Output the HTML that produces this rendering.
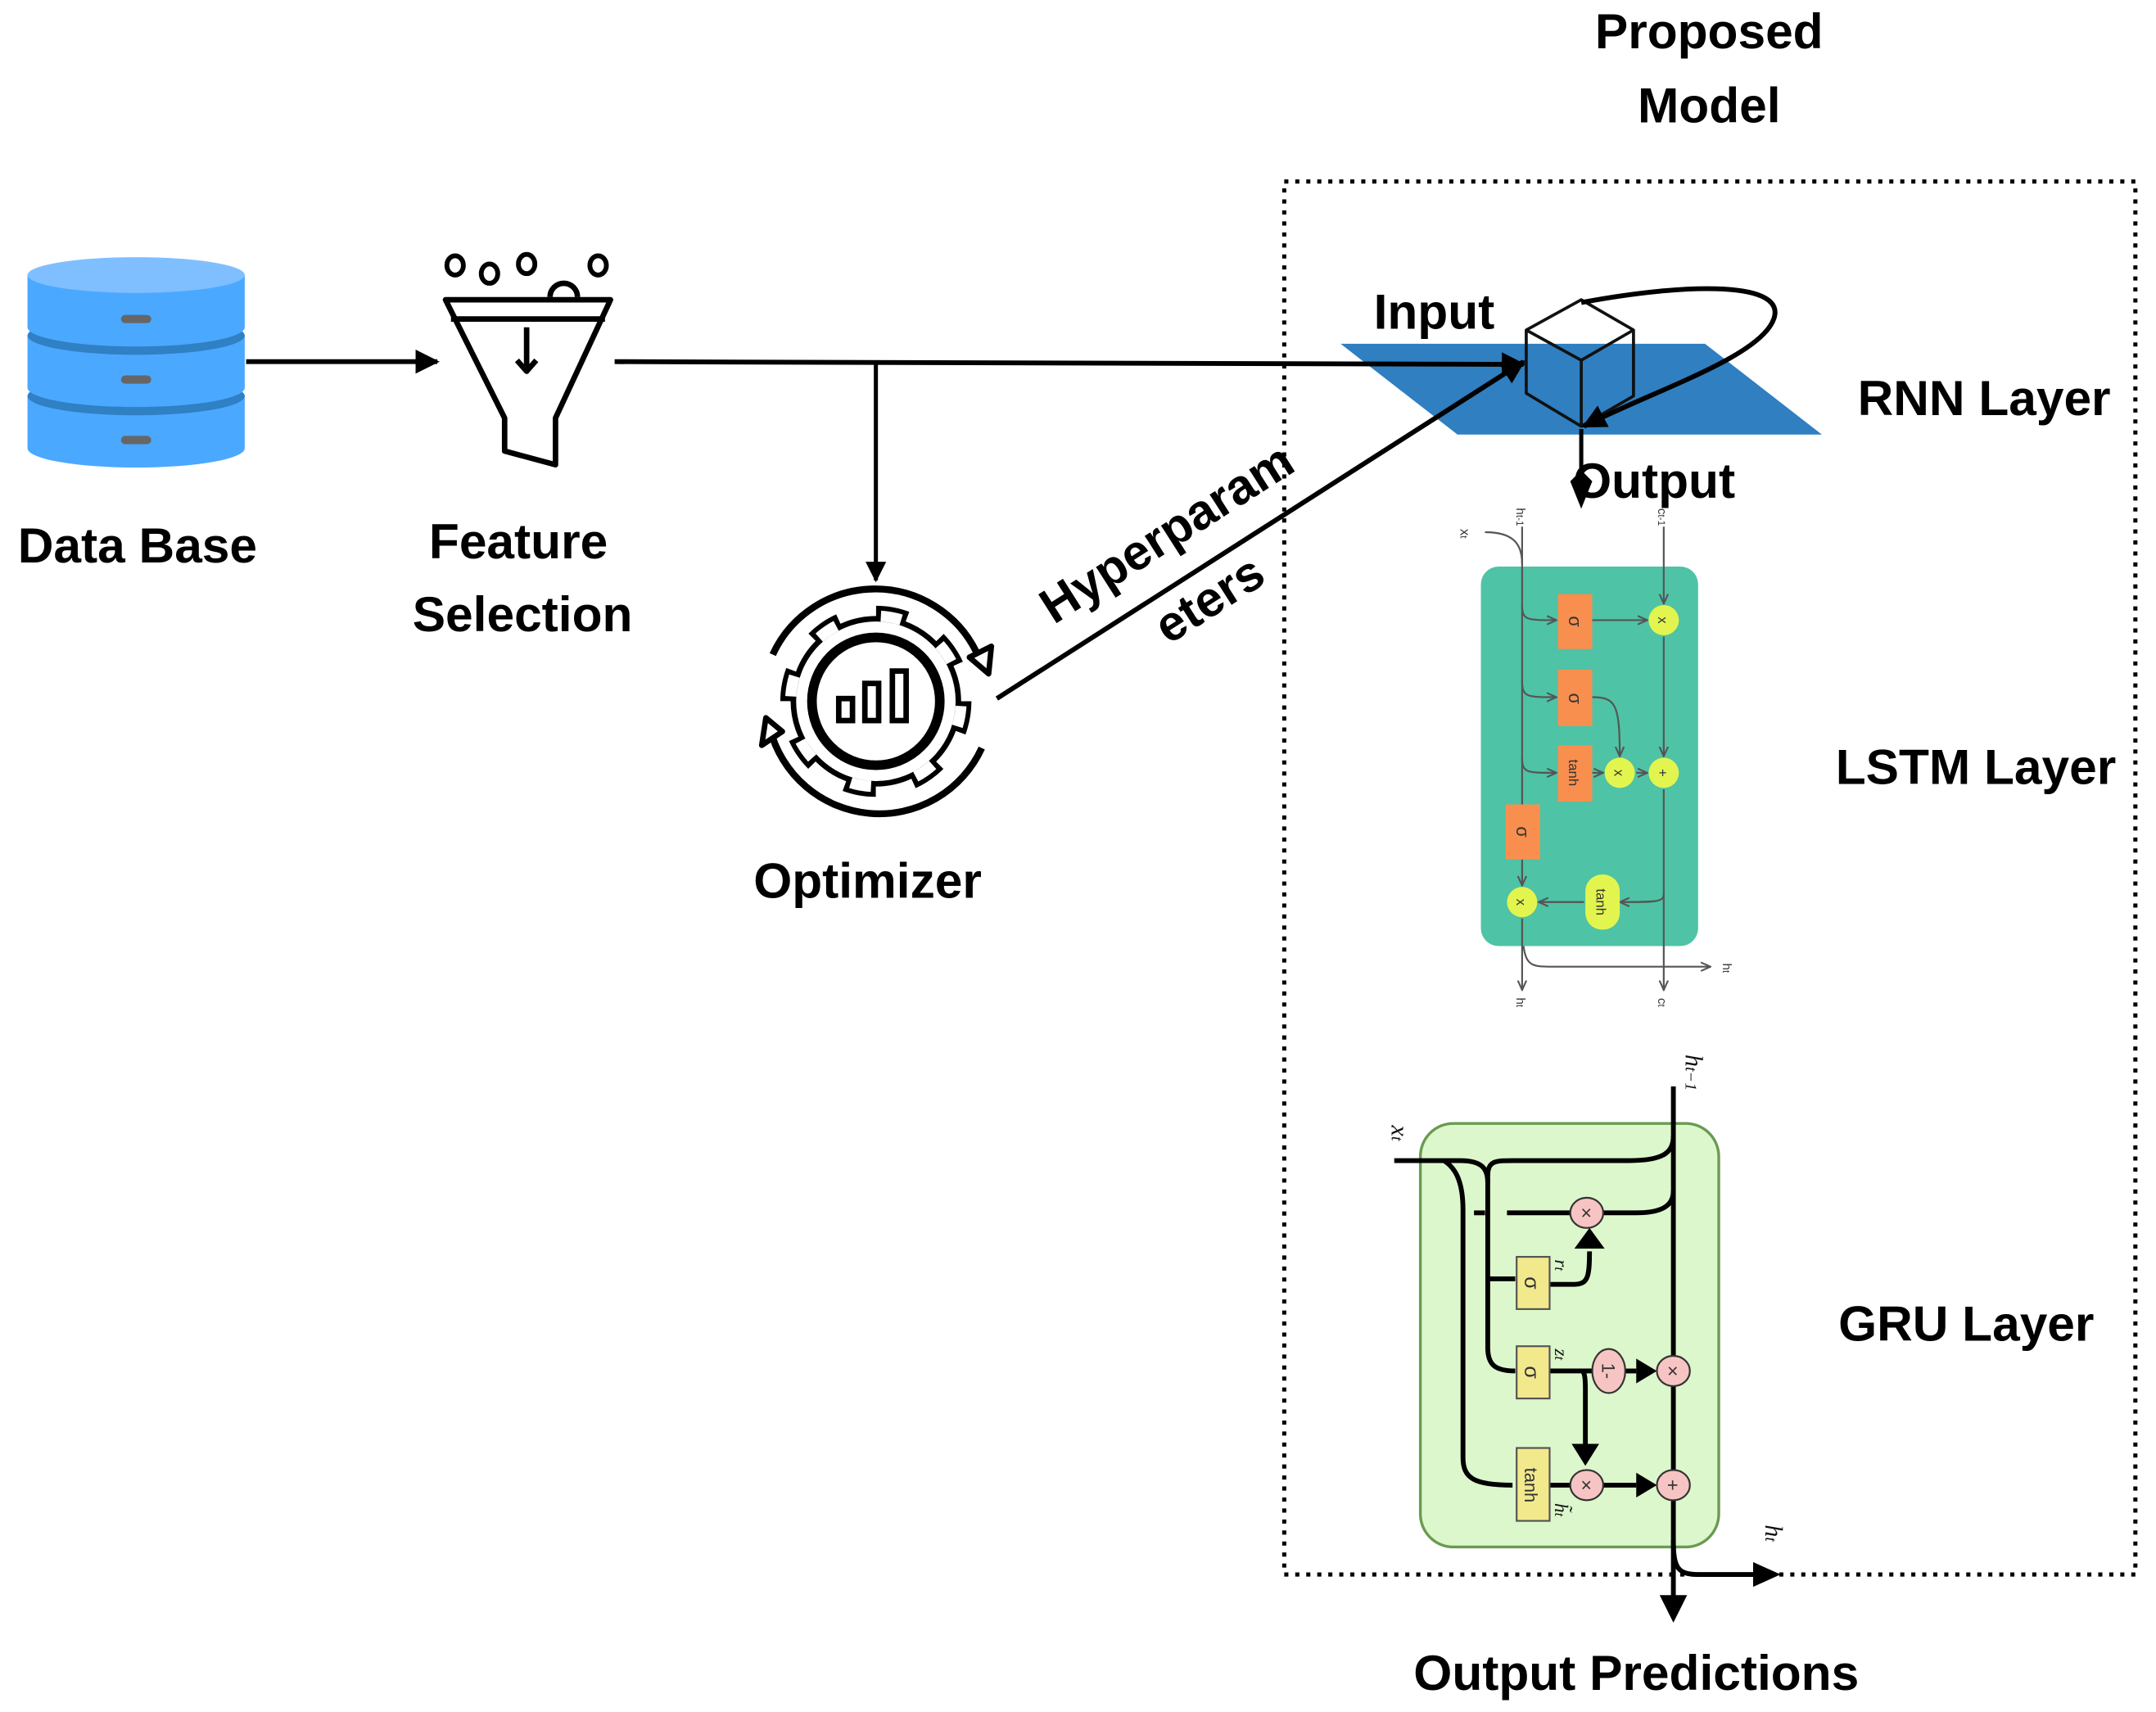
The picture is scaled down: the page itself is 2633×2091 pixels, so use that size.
<!DOCTYPE html>
<html><head><meta charset="utf-8"><style>
html,body{margin:0;padding:0;background:#fff;}
svg{display:block;}
.lb{font-family:"Liberation Sans",sans-serif;font-weight:bold;font-size:36px;fill:#000;}
.sm{font-family:"Liberation Sans",sans-serif;fill:#333;}
.it{font-family:"Liberation Serif",serif;font-style:italic;fill:#111;}
</style></head><body>
<svg width="2633" height="2091" viewBox="0 0 1568 1245" preserveAspectRatio="none" xmlns="http://www.w3.org/2000/svg">
<defs>
<marker id="ah" viewBox="0 0 10 10" refX="9" refY="5" markerWidth="5" markerHeight="5" orient="auto"><path d="M0,0 L10,5 L0,10 Z" fill="#000"/></marker>
<marker id="ag" viewBox="0 0 10 10" refX="9" refY="5" markerWidth="6" markerHeight="6" orient="auto"><path d="M0,1 L9,5 L0,9" fill="none" stroke="#555" stroke-width="1.6"/></marker>
</defs>

<!-- RNN plane (behind lines) -->
<polygon points="975,250 1240,250 1325,316 1060,316" fill="#2f7fc1"/>

<!-- Database -->
<g>
<path d="M20,288 v38 a79,14 0 0 0 158,0 v-38 z" fill="#4ba8ff"/>
<ellipse cx="99" cy="288" rx="79" ry="14" fill="#2f80c4"/>
<path d="M20,244 v38 a79,14 0 0 0 158,0 v-38 z" fill="#4ba8ff"/>
<ellipse cx="99" cy="244" rx="79" ry="14" fill="#2f80c4"/>
<path d="M20,200 v38 a79,14 0 0 0 158,0 v-38 z" fill="#4ba8ff"/>
<ellipse cx="99" cy="200" rx="79" ry="13" fill="#7fbfff"/>
<rect x="88" y="229" width="22" height="6" rx="3" fill="#666"/>
<rect x="88" y="273" width="22" height="6" rx="3" fill="#666"/>
<rect x="88" y="317" width="22" height="6" rx="3" fill="#666"/>
</g>
<line x1="179" y1="263" x2="318" y2="263" stroke="#000" stroke-width="3.5" marker-end="url(#ah)"/>

<!-- Funnel -->
<g fill="none" stroke="#000" stroke-width="4" stroke-linejoin="round">
<path d="M324,218 L444,218 L404,304 L404,338 L367,328 L367,304 Z"/>
<line x1="328" y1="232" x2="440" y2="232"/>
<path d="M400,216 a10,10 0 0 1 20,0"/>
<line x1="383" y1="238" x2="383" y2="268"/>
<path d="M376,262 L383,270 L390,262"/>
</g>
<g fill="none" stroke="#000" stroke-width="3.5">
<ellipse cx="331" cy="193" rx="6" ry="7"/><ellipse cx="356" cy="199" rx="6" ry="7"/>
<ellipse cx="383" cy="192" rx="6" ry="7"/><ellipse cx="435" cy="193" rx="6" ry="7"/>
</g>

<line x1="447" y1="263" x2="1108" y2="265" stroke="#000" stroke-width="3.5" marker-end="url(#ah)"/>
<line x1="637" y1="264" x2="637" y2="422" stroke="#000" stroke-width="3" marker-end="url(#ah)"/>

<!-- Optimizer gear -->
<g transform="translate(637,510)">
<circle r="62" fill="none" stroke="#000" stroke-width="15" stroke-dasharray="22 26.7"/>
<circle r="54" fill="none" stroke="#000" stroke-width="16"/>
<circle r="62" fill="none" stroke="#fff" stroke-width="8" stroke-dasharray="15 33.7" stroke-dashoffset="-3.5"/>
<circle r="54" fill="none" stroke="#fff" stroke-width="8"/>
<circle r="45" fill="#fff" stroke="#000" stroke-width="4"/>
<rect x="-27" y="-2" width="10" height="16" fill="none" stroke="#000" stroke-width="4"/>
<rect x="-8" y="-13" width="10" height="27" fill="none" stroke="#000" stroke-width="4"/>
<rect x="12" y="-22" width="10" height="36" fill="none" stroke="#000" stroke-width="4"/>
<path d="M-75,-34 A82,82 0 0 1 73,-36" fill="none" stroke="#000" stroke-width="5"/>
<path d="M77,34 A82,82 0 0 1 -77,20" fill="none" stroke="#000" stroke-width="5"/>
<path d="M68,-32 L82,-20 L84,-40 Z" fill="#fff" stroke="#000" stroke-width="4" stroke-linejoin="round"/>
<path d="M-68,22 L-83,32 L-80,12 Z" fill="#fff" stroke="#000" stroke-width="4" stroke-linejoin="round"/>
</g>
<line x1="725" y1="508" x2="1108" y2="263" stroke="#000" stroke-width="3.5" marker-end="url(#ah)"/>
<text class="lb" transform="translate(855,398) rotate(-32.5)" text-anchor="middle">Hyperparam</text>
<text class="lb" transform="translate(886,446) rotate(-32.5)" text-anchor="middle">eters</text>

<!-- labels -->
<text class="lb" x="100" y="409" text-anchor="middle">Data Base</text>
<text class="lb" x="377" y="406" text-anchor="middle">Feature</text>
<text class="lb" x="380" y="459" text-anchor="middle">Selection</text>
<text class="lb" x="631" y="653" text-anchor="middle">Optimizer</text>
<text class="lb" x="1243" y="35" text-anchor="middle">Proposed</text>
<text class="lb" x="1243" y="89" text-anchor="middle">Model</text>

<!-- dotted box -->
<rect x="934" y="132" width="619" height="1013" fill="none" stroke="#000" stroke-width="3" stroke-dasharray="3 5"/>

<!-- RNN cube -->
<g fill="none" stroke="#111" stroke-width="2.2" stroke-linejoin="round">
<path d="M1150,218 L1188,240 L1188,288 L1150,310 L1110,286 L1110,240 Z"/>
<path d="M1110,240 L1150,262 L1188,240 M1150,262 L1150,310"/>
</g>
<path d="M1150,220 C1230,205 1300,205 1290,232 C1280,260 1200,285 1152,310" fill="none" stroke="#000" stroke-width="3.5" marker-end="url(#ah)"/>
<line x1="1150" y1="312" x2="1150" y2="358" stroke="#000" stroke-width="3"/>
<path d="M1142,350 L1150,370 L1158,350 L1150,342 Z" fill="#000"/>
<text class="lb" x="1043" y="239" text-anchor="middle">Input</text>
<text class="lb" x="1203" y="362" text-anchor="middle">Output</text>
<text class="lb" x="1443" y="302" text-anchor="middle">RNN Layer</text>
<text class="lb" x="1437" y="570" text-anchor="middle">LSTM Layer</text>
<text class="lb" x="1430" y="975" text-anchor="middle">GRU Layer</text>
<text class="lb" x="1190" y="1229" text-anchor="middle">Output Predictions</text>

<!-- LSTM -->
<rect x="1077" y="412" width="158" height="276" rx="13" fill="#4ec3a5"/>
<g fill="none" stroke="#555" stroke-width="1.3">
<path d="M1080,387 C1100,387 1107,395 1107,410"/>
<line x1="1107" y1="383" x2="1107" y2="585"/>
<line x1="1210" y1="383" x2="1210" y2="439" marker-end="url(#ag)"/>
<path d="M1107,440 C1107,451 1110,451 1132,451" marker-end="url(#ag)"/>
<path d="M1107,495 C1107,507 1110,507 1132,507" marker-end="url(#ag)"/>
<path d="M1107,551 C1107,562 1110,562 1132,562" marker-end="url(#ag)"/>
<line x1="1158" y1="451" x2="1198" y2="451" marker-end="url(#ag)"/>
<path d="M1158,507 C1175,507 1178,512 1178,550" marker-end="url(#ag)"/>
<line x1="1158" y1="562" x2="1166" y2="562" marker-end="url(#ag)"/>
<line x1="1190" y1="562" x2="1198" y2="562" marker-end="url(#ag)"/>
<line x1="1210" y1="463" x2="1210" y2="550" marker-end="url(#ag)"/>
<line x1="1210" y1="574" x2="1210" y2="720" marker-end="url(#ag)"/>
<path d="M1210,650 C1210,656 1205,656 1178,656" marker-end="url(#ag)"/>
<line x1="1152" y1="656" x2="1119" y2="656" marker-end="url(#ag)"/>
<line x1="1107" y1="625" x2="1107" y2="644" marker-end="url(#ag)"/>
<line x1="1107" y1="668" x2="1107" y2="720" marker-end="url(#ag)"/>
<path d="M1108,688 C1110,703 1115,703 1130,703 L1244,703" marker-end="url(#ag)"/>
</g>
<g fill="#f98f4f">
<rect x="1133" y="432" width="25" height="40"/>
<rect x="1133" y="487" width="25" height="41"/>
<rect x="1133" y="542" width="25" height="41"/>
<rect x="1095" y="585" width="25" height="40"/>
</g>
<g fill="#e2f54f">
<ellipse cx="1210" cy="451" rx="11" ry="11"/>
<ellipse cx="1178" cy="562" rx="11" ry="11"/>
<ellipse cx="1210" cy="562" rx="11" ry="11"/>
<ellipse cx="1107" cy="656" rx="11" ry="11"/>
<rect x="1153" y="636" width="25" height="40" rx="12"/>
</g>
<g class="sm" font-size="13" text-anchor="middle">
<text transform="translate(1141,452) rotate(90)">σ</text>
<text transform="translate(1141,508) rotate(90)">σ</text>
<text transform="translate(1103,605) rotate(90)">σ</text>
<text transform="translate(1141,562) rotate(90)" font-size="10">tanh</text>
<text transform="translate(1161,656) rotate(90)" font-size="10">tanh</text>
<text transform="translate(1206,451) rotate(90)" font-size="10">x</text>
<text transform="translate(1174,562) rotate(90)" font-size="10">x</text>
<text transform="translate(1206,562) rotate(90)" font-size="10">+</text>
<text transform="translate(1103,656) rotate(90)" font-size="10">x</text>
<text transform="translate(1062,388) rotate(90)" font-size="10">x<tspan font-size="7">t</tspan></text>
<text transform="translate(1103,376) rotate(90)" font-size="9">h<tspan font-size="7">t-1</tspan></text>
<text transform="translate(1206,376) rotate(90)" font-size="9">c<tspan font-size="7">t-1</tspan></text>
<text transform="translate(1103,729) rotate(90)" font-size="9">h<tspan font-size="7">t</tspan></text>
<text transform="translate(1206,729) rotate(90)" font-size="9">c<tspan font-size="7">t</tspan></text>
<text transform="translate(1253,704) rotate(90)" font-size="9">h<tspan font-size="7">t</tspan></text>
</g>

<!-- GRU -->
<rect x="1033" y="817" width="217" height="308" rx="24" fill="#ddf7cc" stroke="#6a9a50" stroke-width="2"/>
<g fill="none" stroke="#000" stroke-width="3.5">
<line x1="1217" y1="790" x2="1217" y2="1165"/>
<path d="M1014,844 L1062,844 C1078,844 1082,850 1082,860"/>
<path d="M1082,855 C1082,844 1088,844 1100,844 L1185,844 C1210,844 1217,838 1217,826"/>
<path d="M1096,882 L1142,882 M1166,882 L1190,882 C1210,882 1217,876 1217,866"/>
<path d="M1072,882 L1080,882"/>
<path d="M1050,844 C1060,850 1064,862 1064,880 L1064,1060 C1064,1075 1072,1080 1100,1080"/>
<path d="M1082,850 L1082,980 C1082,993 1088,997 1102,997"/>
<path d="M1082,930 L1102,930"/>
<path d="M1127,934 L1145,934 C1155,934 1156,928 1156,910"/>
<path d="M1127,997 L1158,997"/>
<path d="M1182,997 L1190,997"/>
<path d="M1150,997 C1152,997 1153,1000 1153,1010 L1153,1052"/>
<path d="M1127,1080 L1142,1080"/>
<path d="M1166,1080 L1190,1080"/>
<path d="M1217,1120 C1217,1140 1220,1145 1235,1145 L1275,1145"/>
</g>
<g fill="#000">
<path d="M1145,908 L1156,893 L1167,908 Z"/>
<path d="M1190,988 L1205,997 L1190,1006 Z"/>
<path d="M1190,1071 L1205,1080 L1190,1089 Z"/>
<path d="M1143,1050 L1153,1066 L1163,1050 Z"/>
<path d="M1207,1160 L1217,1180 L1227,1160 Z"/>
<path d="M1275,1136 L1295,1145 L1275,1154 Z"/>
</g>
<g fill="#f2e98c" stroke="#555" stroke-width="1.3">
<rect x="1103" y="914" width="24" height="38"/>
<rect x="1103" y="979" width="24" height="38"/>
<rect x="1103" y="1053" width="24" height="53"/>
</g>
<g fill="#f7c4c4" stroke="#333" stroke-width="1.3">
<ellipse cx="1154" cy="882" rx="12" ry="11"/>
<ellipse cx="1217" cy="997" rx="12" ry="11"/>
<ellipse cx="1154" cy="1080" rx="12" ry="11"/>
<ellipse cx="1217" cy="1080" rx="12" ry="11"/>
<ellipse cx="1170" cy="997" rx="12" ry="16"/>
</g>
<g class="sm" fill="#111" font-size="15" text-anchor="middle">
<text transform="translate(1109,933) rotate(90)">σ</text>
<text transform="translate(1109,998) rotate(90)">σ</text>
<text transform="translate(1109,1080) rotate(90)" font-size="13">tanh</text>
<text transform="translate(1149,882) rotate(90)" font-size="14">×</text>
<text transform="translate(1212,997) rotate(90)" font-size="14">×</text>
<text transform="translate(1149,1080) rotate(90)" font-size="14">×</text>
<text transform="translate(1212,1080) rotate(90)" font-size="14">+</text>
<text transform="translate(1165,997) rotate(90)" font-size="13">1-</text>
</g>
<g class="it" font-size="18" text-anchor="middle">
<text transform="translate(1012,824) rotate(90)">x<tspan font-size="12">t</tspan></text>
<text transform="translate(1226,780) rotate(90)">h<tspan font-size="12">t−1</tspan></text>
<text transform="translate(1131,920) rotate(90)" font-size="14">r<tspan font-size="10">t</tspan></text>
<text transform="translate(1131,985) rotate(90)" font-size="14">z<tspan font-size="10">t</tspan></text>
<text transform="translate(1131,1098) rotate(90)" font-size="14">h̃<tspan font-size="10">t</tspan></text>
<text transform="translate(1284,1115) rotate(90)">h<tspan font-size="12">t</tspan></text>
</g>
</svg>
</body></html>
